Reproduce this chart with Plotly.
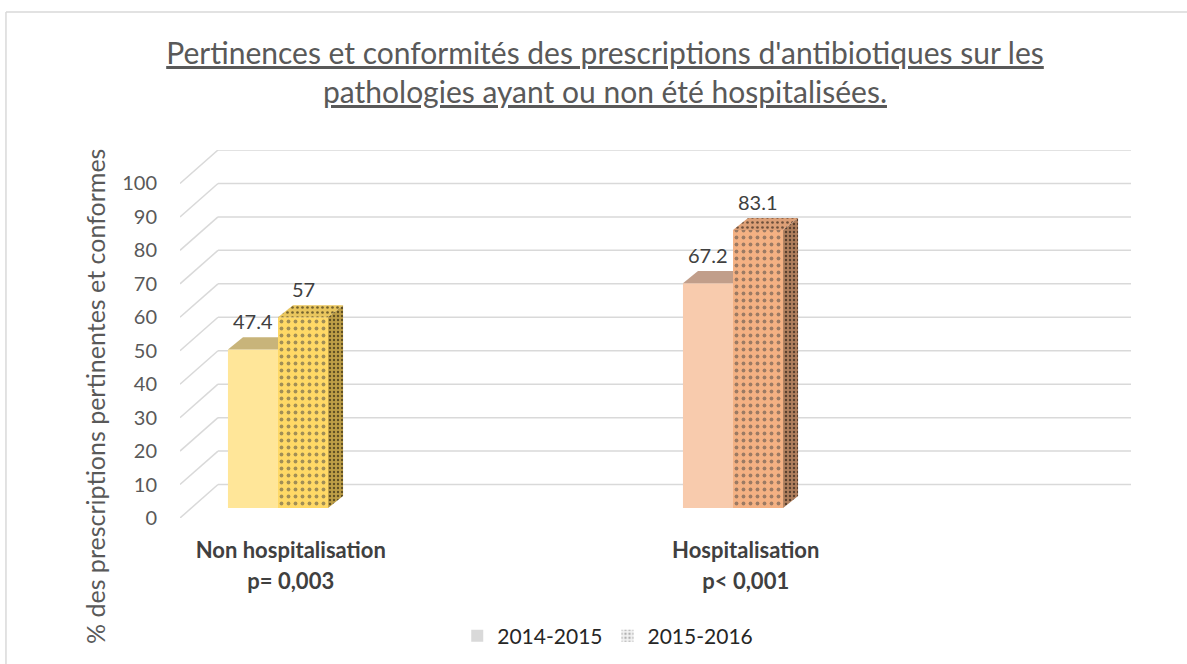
import plotly.graph_objects as go

# ---------------- data ----------------
categories = ["Non hospitalisation", "Hospitalisation"]
p_values = ["p= 0,003", "p< 0,001"]
series_names = ["2014-2015", "2015-2016"]
values_2014_2015 = [47.4, 67.2]
values_2015_2016 = [57, 83.1]
y_ticks = list(range(0, 101, 10))

title_lines = [
    "Pertinences et conformités des prescriptions d'antibiotiques sur les",
    "pathologies ayant ou non été hospitalisées.",
]
y_title = "% des prescriptions pertinentes et conformes"

# ---------------- styling ----------------
FONT = "Lato"
front_2014 = ["#FFE699", "#F8CBAD"]
top_2014 = ["#C8B47A", "#C19E8A"]
front_2015 = ["#FFD966", "#F4B183"]
top_2015 = ["#E9C65E", "#DDA077"]
side_2015 = ["#BE9F47", "#B07F5D"]
GRID = "#D9D9D9"

X_RANGE = [-0.2154, 1.8747]
Y_RANGE = [0, 110]
BASE_SHIFT = 3      # bars stand slightly behind the front edge of the floor
WALL_DX = 0.0835    # depth of the back wall (x units)
WALL_DY = 10        # depth of the back wall (y units)
BAR_W = 0.11
FACE_DX = 0.033
FACE_DY = 3.6
LABEL_SHIFT = 0.028

xpos = list(range(len(categories)))

fig = go.Figure()

# front faces of the bars
fig.add_trace(go.Bar(
    x=xpos, y=values_2014_2015, width=BAR_W, offset=-BAR_W, yaxis="y2",
    marker=dict(color=front_2014, line_width=0),
    showlegend=False, hoverinfo="skip", name=series_names[0]))
fig.add_trace(go.Bar(
    x=xpos, y=values_2015_2016, width=BAR_W, offset=0, yaxis="y2",
    marker=dict(color=front_2015, line_width=0,
                pattern=dict(shape=".", fgcolor="black", size=7, solidity=0.24,
                             fillmode="overlay")),
    showlegend=False, hoverinfo="skip", name=series_names[1]))


# 3D faces (top / side) built from the values
def face(xs, ys, color, pattern=None):
    kw = dict(x=xs + [xs[0]], y=ys + [ys[0]], yaxis="y2", mode="lines",
              fill="toself", fillcolor=color, line=dict(width=0),
              showlegend=False, hoverinfo="skip")
    if pattern:
        kw["fillpattern"] = dict(shape=".", fgcolor="black", bgcolor=color,
                                 size=pattern[0], solidity=pattern[1],
                                 fillmode="overlay")
    fig.add_trace(go.Scatter(**kw))


for i in xpos:
    v1 = values_2014_2015[i]
    xl1, xr1 = i - BAR_W, i
    face([xl1, xr1, xr1, xl1 + FACE_DX], [v1, v1, v1 + FACE_DY, v1 + FACE_DY], top_2014[i])
    v2 = values_2015_2016[i]
    xl2, xr2 = i, i + BAR_W
    face([xl2, xr2, xr2 + FACE_DX, xl2 + FACE_DX],
         [v2, v2, v2 + FACE_DY, v2 + FACE_DY], top_2015[i], (5, 0.22))
    face([xr2, xr2, xr2 + FACE_DX, xr2 + FACE_DX],
         [0, v2, v2 + FACE_DY, FACE_DY], side_2015[i], (4, 0.27))

# legend entries (Excel shows neutral swatches)
fig.add_trace(go.Bar(x=[None], y=[None], name=series_names[0],
                     marker=dict(color="#D9D9D9", line_width=0)))
fig.add_trace(go.Bar(x=[None], y=[None], name=series_names[1],
                     marker=dict(color="#F2F2F2", line_width=0,
                                 pattern=dict(shape=".", fgcolor="#6F6F6F", size=5,
                                              solidity=0.3, fillmode="overlay"))))

# data labels
annotations = []
for vals, off in ((values_2014_2015, -BAR_W / 2), (values_2015_2016, BAR_W / 2)):
    for i, v in zip(xpos, vals):
        annotations.append(dict(
            x=i + off, y=v, xref="x", yref="y2", text=f"{v:g}",
            showarrow=False, yanchor="bottom", yshift=14,
            font=dict(family=FONT, size=20, color="#404040")))

# y-axis title (Excel centres it on the whole chart height)
annotations.append(dict(
    text=y_title, textangle=-90, showarrow=False,
    xref="paper", x=(95 - 180) / 951, xanchor="center",
    yref="paper", y=(518 - 397) / 368, yanchor="middle",
    font=dict(family=FONT, size=25, color="#595959")))

# gridlines: back wall + slanted side wall
shapes = []
x0 = X_RANGE[0]
for t in y_ticks:
    shapes.append(dict(type="line", xref="x", yref="y", x0=x0, y0=t,
                       x1=x0 + WALL_DX, y1=t + WALL_DY,
                       line=dict(color=GRID, width=1.5), layer="below"))
    shapes.append(dict(type="line", xref="x", yref="y", x0=x0 + WALL_DX, y0=t + WALL_DY,
                       x1=X_RANGE[1], y1=t + WALL_DY,
                       line=dict(color=GRID, width=1.5), layer="below"))
# outer chart border (only the left and top edges are inside the picture)
shapes.append(dict(type="line", xref="paper", yref="paper", x0=-0.183, y0=-0.6,
                   x1=-0.183, y1=1.375, line=dict(color="#D9D9D9", width=1.5),
                   layer="below"))
shapes.append(dict(type="line", xref="paper", yref="paper", x0=-0.183, y0=1.375,
                   x1=1.6, y1=1.375, line=dict(color="#D9D9D9", width=1.5),
                   layer="below"))

fig.update_layout(
    width=1187, height=664,
    margin=dict(l=180, r=56, t=150, b=146, autoexpand=False),
    paper_bgcolor="white", plot_bgcolor="rgba(0,0,0,0)",
    barmode="overlay",
    font=dict(family=FONT, color="#595959"),
    title=dict(
        text="<br>".join(f"<u>{t}</u>" for t in title_lines),
        x=0.5097, xref="container", xanchor="center",
        y=1 - 64 / 664, yref="container", yanchor="middle",
        font=dict(family=FONT, size=30, color="#595959")),
    xaxis=dict(range=X_RANGE, tickvals=[i + LABEL_SHIFT for i in xpos],
               ticktext=[f"<b>{c}</b>" for c in categories],
               showgrid=False, zeroline=False, showline=False, ticks="",
               ticklabelstandoff=17, automargin=False,
               tickfont=dict(family=FONT, size=22, color="#404040")),
    xaxis2=dict(range=X_RANGE, overlaying="x", anchor="y", side="bottom",
                tickvals=[i + LABEL_SHIFT for i in xpos],
                ticktext=[f"<b>{p}</b>" for p in p_values],
                showgrid=False, zeroline=False, showline=False, ticks="",
                ticklabelstandoff=48, automargin=False,
                tickfont=dict(family=FONT, size=22, color="#404040")),
    yaxis=dict(range=Y_RANGE, tickvals=y_ticks, showgrid=False, zeroline=False,
               showline=False, ticks="", ticklabelstandoff=22, automargin=False,
               tickfont=dict(family=FONT, size=20, color="#595959")),
    yaxis2=dict(range=[Y_RANGE[0] - BASE_SHIFT, Y_RANGE[1] - BASE_SHIFT],
                overlaying="y", visible=False),
    legend=dict(orientation="h", xref="container", x=0.512, xanchor="center",
                yref="container", y=0.042, yanchor="middle",
                font=dict(family=FONT, size=21, color="#262626"),
                itemwidth=30),
    annotations=annotations,
    shapes=shapes,
)

# dummy trace so the secondary x axis (p-values) is drawn
fig.add_trace(go.Scatter(x=[None], y=[None], xaxis="x2", showlegend=False,
                         hoverinfo="skip"))

# the page body margin would otherwise shift the 1187x664 figure
fig.write_html("out.html", config={"displayModeBar": False},
               post_script="document.body.style.margin='0';")
